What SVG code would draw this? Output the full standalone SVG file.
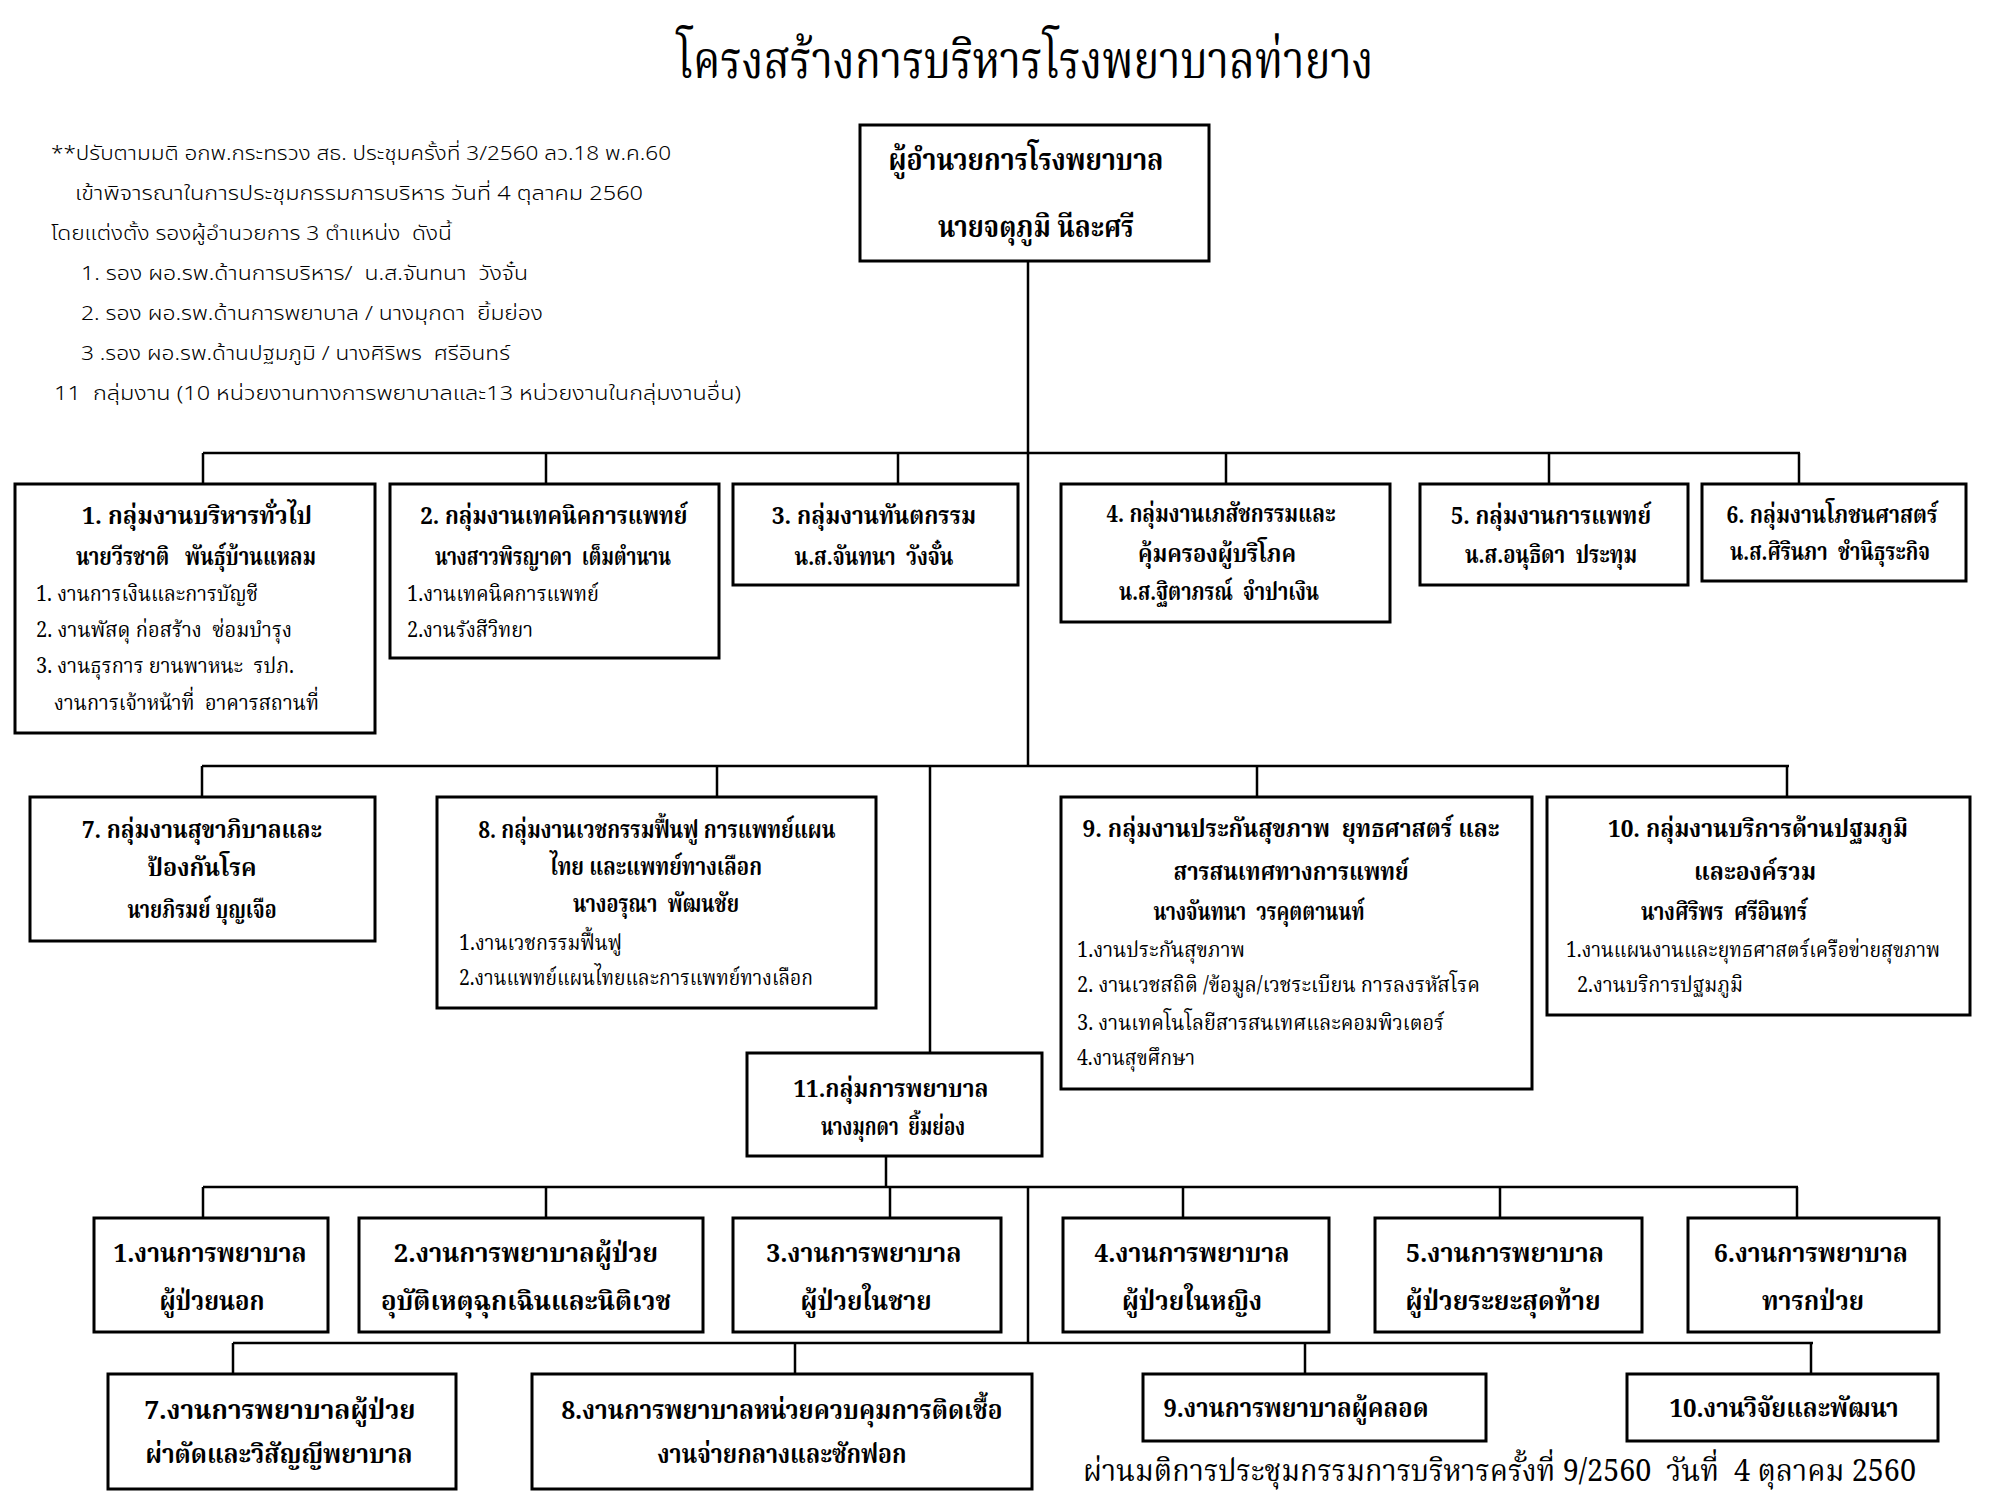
<svg xmlns="http://www.w3.org/2000/svg" width="2000" height="1500" viewBox="0 0 2000 1500" xml:space="preserve">
<style>
.bg{fill:#fff}
.box{fill:#fff;stroke:#000;stroke-width:3}
.ln{stroke:#000;stroke-width:2.5;fill:none}
text{fill:#000;font-family:"Noto Serif Thai","Noto Sans Thai","Liberation Serif",serif;white-space:pre}
.h{font-size:24px;font-weight:bold;text-anchor:middle}
.it{font-size:22px}
.nr{font-size:26px;font-weight:bold;text-anchor:middle}
.note{font-family:"Noto Sans Thai","Liberation Sans",sans-serif;font-size:20px;font-weight:300}
.title{font-size:52px;text-anchor:middle}
.dir{font-size:30px;font-weight:bold;text-anchor:middle}
.foot{font-size:30px}
</style>
<rect class="bg" x="0" y="0" width="2000" height="1500"/>

<text class="title" x="1025" y="78" textLength="697" lengthAdjust="spacingAndGlyphs">โครงสร้างการบริหารโรงพยาบาลท่ายาง</text>

<g id="notes">
<text class="note" x="51" y="160" textLength="620" lengthAdjust="spacingAndGlyphs">**ปรับตามมติ อกพ.กระทรวง สธ. ประชุมครั้งที่ 3/2560 ลว.18 พ.ค.60</text>
<text class="note" x="75" y="200" textLength="568" lengthAdjust="spacingAndGlyphs">เข้าพิจารณาในการประชุมกรรมการบริหาร วันที่ 4 ตุลาคม 2560</text>
<text class="note" x="51" y="240" textLength="401" lengthAdjust="spacingAndGlyphs">โดยแต่งตั้ง รองผู้อำนวยการ 3 ตำแหน่ง  ดังนี้</text>
<text class="note" x="81" y="280" textLength="447" lengthAdjust="spacingAndGlyphs">1. รอง ผอ.รพ.ด้านการบริหาร/  น.ส.จันทนา  วังจั๋น</text>
<text class="note" x="81" y="320" textLength="462" lengthAdjust="spacingAndGlyphs">2. รอง ผอ.รพ.ด้านการพยาบาล / นางมุกดา  ยิ้มย่อง</text>
<text class="note" x="81" y="360" textLength="429" lengthAdjust="spacingAndGlyphs">3 .รอง ผอ.รพ.ด้านปฐมภูมิ / นางศิริพร  ศรีอินทร์</text>
<text class="note" x="54" y="400" textLength="687" lengthAdjust="spacingAndGlyphs">11  กลุ่มงาน (10 หน่วยงานทางการพยาบาลและ13 หน่วยงานในกลุ่มงานอื่น)</text>
</g>

<g id="connectors">
<path class="ln" d="M1028 260V766M1028 1187V1343"/>
<path class="ln" d="M203 453H1800M203 453V484M546 453V484M898 453V484M1226 453V484M1549 453V484M1799 453V484"/>
<path class="ln" d="M202 766H1789M202 766V797M717 766V797M930 766V1053M1257 766V797M1787 766V797"/>
<path class="ln" d="M886 1156V1187M203 1187H1798M203 1187V1218M546 1187V1218M890 1187V1218M1183 1187V1218M1500 1187V1218M1797 1187V1218"/>
<path class="ln" d="M233 1343H1813M233 1343V1374M795 1343V1374M1305 1343V1374M1811 1343V1374"/>
</g>

<g id="n-director">
<rect class="box" x="860" y="125" width="349" height="136"/>
<text class="dir" x="1026" y="170" textLength="275" lengthAdjust="spacingAndGlyphs">ผู้อำนวยการโรงพยาบาล</text>
<text class="dir" x="1036" y="237" textLength="196" lengthAdjust="spacingAndGlyphs">นายจตุภูมิ นีละศรี</text>
</g>

<g id="n-g1">
<rect class="box" x="15" y="484" width="360" height="249"/>
<text class="h" x="197" y="524" textLength="230" lengthAdjust="spacingAndGlyphs">1. กลุ่มงานบริหารทั่วไป</text>
<text class="h" x="196" y="565" textLength="240" lengthAdjust="spacingAndGlyphs">นายวีรชาติ   พันธุ์บ้านแหลม</text>
<text class="it" x="36" y="601" textLength="222" lengthAdjust="spacingAndGlyphs">1. งานการเงินและการบัญชี</text>
<text class="it" x="36" y="637" textLength="256" lengthAdjust="spacingAndGlyphs">2. งานพัสดุ ก่อสร้าง  ซ่อมบำรุง</text>
<text class="it" x="36" y="673" textLength="258" lengthAdjust="spacingAndGlyphs">3. งานธุรการ ยานพาหนะ  รปภ.</text>
<text class="it" x="54" y="710" textLength="265" lengthAdjust="spacingAndGlyphs">งานการเจ้าหน้าที่  อาคารสถานที่</text>
</g>

<g id="n-g2">
<rect class="box" x="390" y="484" width="329" height="174"/>
<text class="h" x="554" y="524" textLength="267" lengthAdjust="spacingAndGlyphs">2. กลุ่มงานเทคนิคการแพทย์</text>
<text class="h" x="553" y="565" textLength="236" lengthAdjust="spacingAndGlyphs">นางสาวพิรญาดา  เต็มตำนาน</text>
<text class="it" x="407" y="601" textLength="192" lengthAdjust="spacingAndGlyphs">1.งานเทคนิคการแพทย์</text>
<text class="it" x="407" y="637" textLength="126" lengthAdjust="spacingAndGlyphs">2.งานรังสีวิทยา</text>
</g>

<g id="n-g3">
<rect class="box" x="733" y="484" width="285" height="101"/>
<text class="h" x="874" y="524" textLength="204" lengthAdjust="spacingAndGlyphs">3. กลุ่มงานทันตกรรม</text>
<text class="h" x="874" y="565" textLength="159" lengthAdjust="spacingAndGlyphs">น.ส.จันทนา  วังจั๋น</text>
</g>

<g id="n-g4">
<rect class="box" x="1061" y="484" width="329" height="138"/>
<text class="h" x="1221" y="522" textLength="229" lengthAdjust="spacingAndGlyphs">4. กลุ่มงานเภสัชกรรมและ</text>
<text class="h" x="1217" y="562" textLength="158" lengthAdjust="spacingAndGlyphs">คุ้มครองผู้บริโภค</text>
<text class="h" x="1219" y="600" textLength="200" lengthAdjust="spacingAndGlyphs">น.ส.ฐิตาภรณ์  จำปาเงิน</text>
</g>

<g id="n-g5">
<rect class="box" x="1420" y="484" width="268" height="101"/>
<text class="h" x="1551" y="524" textLength="200" lengthAdjust="spacingAndGlyphs">5. กลุ่มงานการแพทย์</text>
<text class="h" x="1551" y="563" textLength="172" lengthAdjust="spacingAndGlyphs">น.ส.อนุธิดา  ประทุม</text>
</g>

<g id="n-g6">
<rect class="box" x="1702" y="484" width="264" height="97"/>
<text class="h" x="1832" y="523" textLength="211" lengthAdjust="spacingAndGlyphs">6. กลุ่มงานโภชนศาสตร์</text>
<text class="h" x="1830" y="560" textLength="200" lengthAdjust="spacingAndGlyphs">น.ส.ศิรินภา  ชำนิธุระกิจ</text>
</g>

<g id="n-g7">
<rect class="box" x="30" y="797" width="345" height="144"/>
<text class="h" x="202" y="838" textLength="240" lengthAdjust="spacingAndGlyphs">7. กลุ่มงานสุขาภิบาลและ</text>
<text class="h" x="202" y="876" textLength="109" lengthAdjust="spacingAndGlyphs">ป้องกันโรค</text>
<text class="h" x="202" y="918" textLength="149" lengthAdjust="spacingAndGlyphs">นายภิรมย์ บุญเจือ</text>
</g>

<g id="n-g8">
<rect class="box" x="437" y="797" width="439" height="211"/>
<text class="h" x="657" y="838" textLength="357" lengthAdjust="spacingAndGlyphs">8. กลุ่มงานเวชกรรมฟื้นฟู การแพทย์แผน</text>
<text class="h" x="656" y="875" textLength="212" lengthAdjust="spacingAndGlyphs">ไทย และแพทย์ทางเลือก</text>
<text class="h" x="656" y="912" textLength="166" lengthAdjust="spacingAndGlyphs">นางอรุณา  พัฒนชัย</text>
<text class="it" x="459" y="950" textLength="163" lengthAdjust="spacingAndGlyphs">1.งานเวชกรรมฟื้นฟู</text>
<text class="it" x="459" y="985" textLength="354" lengthAdjust="spacingAndGlyphs">2.งานแพทย์แผนไทยและการแพทย์ทางเลือก</text>
</g>

<g id="n-g9">
<rect class="box" x="1061" y="797" width="471" height="292"/>
<text class="h" x="1291" y="837" textLength="417" lengthAdjust="spacingAndGlyphs">9. กลุ่มงานประกันสุขภาพ  ยุทธศาสตร์ และ</text>
<text class="h" x="1291" y="880" textLength="235" lengthAdjust="spacingAndGlyphs">สารสนเทศทางการแพทย์</text>
<text class="h" x="1259" y="920" textLength="211" lengthAdjust="spacingAndGlyphs">นางจันทนา  วรคุตตานนท์</text>
<text class="it" x="1077" y="957" textLength="168" lengthAdjust="spacingAndGlyphs">1.งานประกันสุขภาพ</text>
<text class="it" x="1077" y="992" textLength="403" lengthAdjust="spacingAndGlyphs">2. งานเวชสถิติ /ข้อมูล/เวชระเบียน การลงรหัสโรค</text>
<text class="it" x="1077" y="1030" textLength="367" lengthAdjust="spacingAndGlyphs">3. งานเทคโนโลยีสารสนเทศและคอมพิวเตอร์</text>
<text class="it" x="1077" y="1065" textLength="118" lengthAdjust="spacingAndGlyphs">4.งานสุขศึกษา</text>
</g>

<g id="n-g10">
<rect class="box" x="1547" y="797" width="423" height="218"/>
<text class="h" x="1758" y="837" textLength="300" lengthAdjust="spacingAndGlyphs">10. กลุ่มงานบริการด้านปฐมภูมิ</text>
<text class="h" x="1755" y="880" textLength="122" lengthAdjust="spacingAndGlyphs">และองค์รวม</text>
<text class="h" x="1724" y="920" textLength="166" lengthAdjust="spacingAndGlyphs">นางศิริพร  ศรีอินทร์</text>
<text class="it" x="1566" y="957" textLength="374" lengthAdjust="spacingAndGlyphs">1.งานแผนงานและยุทธศาสตร์เครือข่ายสุขภาพ</text>
<text class="it" x="1577" y="992" textLength="166" lengthAdjust="spacingAndGlyphs">2.งานบริการปฐมภูมิ</text>
</g>

<g id="n-g11">
<rect class="box" x="747" y="1053" width="295" height="103"/>
<text class="h" x="891" y="1097" textLength="195" lengthAdjust="spacingAndGlyphs">11.กลุ่มการพยาบาล</text>
<text class="h" x="893" y="1135" textLength="144" lengthAdjust="spacingAndGlyphs">นางมุกดา  ยิ้มย่อง</text>
</g>

<g id="n-r1">
<rect class="box" x="94" y="1218" width="234" height="114"/>
<text class="nr" x="210" y="1262" textLength="193" lengthAdjust="spacingAndGlyphs">1.งานการพยาบาล</text>
<text class="nr" x="212" y="1310" textLength="105" lengthAdjust="spacingAndGlyphs">ผู้ป่วยนอก</text>
</g>
<g id="n-r2">
<rect class="box" x="359" y="1218" width="344" height="114"/>
<text class="nr" x="526" y="1262" textLength="264" lengthAdjust="spacingAndGlyphs">2.งานการพยาบาลผู้ป่วย</text>
<text class="nr" x="526" y="1310" textLength="290" lengthAdjust="spacingAndGlyphs">อุบัติเหตุฉุกเฉินและนิติเวช</text>
</g>
<g id="n-r3">
<rect class="box" x="733" y="1218" width="268" height="114"/>
<text class="nr" x="864" y="1262" textLength="195" lengthAdjust="spacingAndGlyphs">3.งานการพยาบาล</text>
<text class="nr" x="866" y="1310" textLength="131" lengthAdjust="spacingAndGlyphs">ผู้ป่วยในชาย</text>
</g>
<g id="n-r4">
<rect class="box" x="1063" y="1218" width="266" height="114"/>
<text class="nr" x="1192" y="1262" textLength="195" lengthAdjust="spacingAndGlyphs">4.งานการพยาบาล</text>
<text class="nr" x="1192" y="1310" textLength="140" lengthAdjust="spacingAndGlyphs">ผู้ป่วยในหญิง</text>
</g>
<g id="n-r5">
<rect class="box" x="1375" y="1218" width="267" height="114"/>
<text class="nr" x="1505" y="1262" textLength="198" lengthAdjust="spacingAndGlyphs">5.งานการพยาบาล</text>
<text class="nr" x="1503" y="1310" textLength="195" lengthAdjust="spacingAndGlyphs">ผู้ป่วยระยะสุดท้าย</text>
</g>
<g id="n-r6">
<rect class="box" x="1688" y="1218" width="251" height="114"/>
<text class="nr" x="1811" y="1262" textLength="194" lengthAdjust="spacingAndGlyphs">6.งานการพยาบาล</text>
<text class="nr" x="1813" y="1310" textLength="102" lengthAdjust="spacingAndGlyphs">ทารกป่วย</text>
</g>

<g id="n-r7">
<rect class="box" x="108" y="1374" width="348" height="115"/>
<text class="nr" x="280" y="1419" textLength="271" lengthAdjust="spacingAndGlyphs">7.งานการพยาบาลผู้ป่วย</text>
<text class="nr" x="279" y="1463" textLength="267" lengthAdjust="spacingAndGlyphs">ผ่าตัดและวิสัญญีพยาบาล</text>
</g>
<g id="n-r8">
<rect class="box" x="532" y="1374" width="500" height="115"/>
<text class="nr" x="782" y="1419" textLength="441" lengthAdjust="spacingAndGlyphs">8.งานการพยาบาลหน่วยควบคุมการติดเชื้อ</text>
<text class="nr" x="782" y="1463" textLength="249" lengthAdjust="spacingAndGlyphs">งานจ่ายกลางและซักฟอก</text>
</g>
<g id="n-r9">
<rect class="box" x="1143" y="1374" width="343" height="67"/>
<text class="nr" x="1296" y="1417" textLength="265" lengthAdjust="spacingAndGlyphs">9.งานการพยาบาลผู้คลอด</text>
</g>
<g id="n-r10">
<rect class="box" x="1627" y="1374" width="311" height="67"/>
<text class="nr" x="1784" y="1417" textLength="229" lengthAdjust="spacingAndGlyphs">10.งานวิจัยและพัฒนา</text>
</g>

<text class="foot" x="1083" y="1481" textLength="833" lengthAdjust="spacingAndGlyphs">ผ่านมติการประชุมกรรมการบริหารครั้งที่ 9/2560  วันที่  4 ตุลาคม 2560</text>
</svg>
